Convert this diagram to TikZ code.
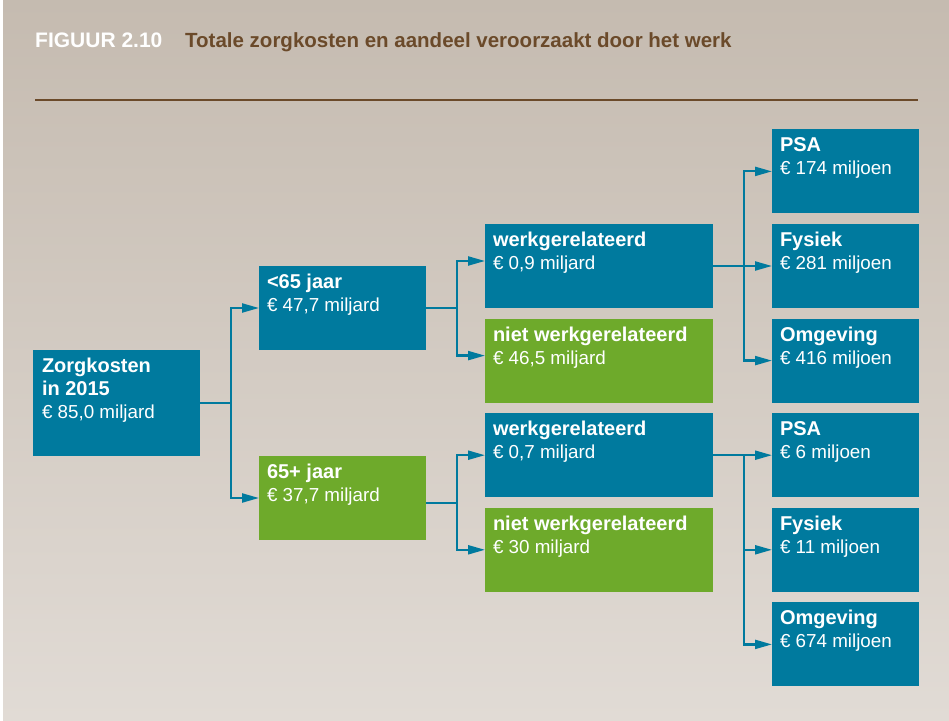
\documentclass[tikz,border=0pt]{standalone}
\usepackage{fontspec}
\setmainfont{Liberation Sans}
\usetikzlibrary{positioning,calc,arrows.meta}

\definecolor{zorgblauw}{RGB}{0,122,158}
\definecolor{zorggroen}{RGB}{110,170,43}
\definecolor{titelbruin}{RGB}{107,74,42}
\definecolor{achtergrond-boven}{RGB}{197,187,176}
\definecolor{achtergrond-onder}{RGB}{225,219,213}

\newcommand{\kop}[1]{{\bfseries\fontsize{20}{23}\selectfont #1}}

\tikzset{
  blok/.style={minimum height=84pt, inner sep=0pt, outer sep=0pt},
  blauw/.style={blok, fill=zorgblauw},
  groen/.style={blok, fill=zorggroen},
  tekst/.style={text=white, align=left, inner sep=0pt, outer sep=0pt, font=\fontsize{18.8}{23}\selectfont},
  lijn/.style={draw=zorgblauw, line width=2.2pt},
  pijl/.style={lijn, -{Triangle[length=17pt 0 0, width=9pt 0 0]}},
}

\begin{document}
\begin{tikzpicture}
        \useasboundingbox (0,0) rectangle (949pt,720pt);
        \fill[white] (0,0) rectangle (949pt,720pt);
        \shade[top color=achtergrond-boven, bottom color=achtergrond-onder] (3pt,0) rectangle (949pt,720pt);

        % titel
        \node[anchor=base west, inner sep=0pt, text=white, font=\bfseries\fontsize{21}{24}\selectfont] (figuur) at (35pt,672pt) {FIGUUR 2.10};
        \node[anchor=base west, inner sep=0pt, text=titelbruin, font=\bfseries\fontsize{20.5}{24}\selectfont] (titel) at (185pt,672pt) {Totale zorgkosten en aandeel veroorzaakt door het werk};
        \draw[titelbruin, line width=1.3pt] (35pt,620pt) -- (918pt,620pt);

        % kolom 1 en 2
        \node[blauw, minimum width=167pt, minimum height=106pt, anchor=north west] (zorg) at (33pt,370pt) {};
        \node[blauw, minimum width=167pt, above right=0pt and 59pt of zorg] (jong) {};
        \node[groen, minimum width=167pt, below right=0pt and 59pt of zorg] (oud) {};

        % kolom 3
        \node[blauw, minimum width=228pt, right=59pt of jong.north east] (werk-jong) {};
        \node[groen, minimum width=228pt, below=10.6pt of werk-jong] (niet-jong) {};
        \node[blauw, minimum width=228pt, below=10.6pt of niet-jong] (werk-oud) {};
        \node[groen, minimum width=228pt, below=10.6pt of werk-oud] (niet-oud) {};

        % kolom 4
        \node[blauw, minimum width=147pt, right=59pt of werk-jong] (fysiek-jong) {};
        \node[blauw, minimum width=147pt, above=10.6pt of fysiek-jong] (psa-jong) {};
        \node[blauw, minimum width=147pt, below=10.6pt of fysiek-jong] (omgeving-jong) {};
        \node[blauw, minimum width=147pt, right=59pt of werk-oud] (psa-oud) {};
        \node[blauw, minimum width=147pt, below=10.6pt of psa-oud] (fysiek-oud) {};
        \node[blauw, minimum width=147pt, below=10.6pt of fysiek-oud] (omgeving-oud) {};

        % teksten
        \node[tekst, below right=8pt and 9pt of zorg.north west] (zorg-t) {\kop{Zorgkosten}\\\kop{in 2015}\\€ 85,0 miljard};
        \node[tekst, below right=8pt and 8pt of jong.north west] (jong-t) {\kop{<65 jaar}\\€ 47,7 miljard};
        \node[tekst, below right=8pt and 8pt of oud.north west] (oud-t) {\kop{65+ jaar}\\€ 37,7 miljard};
        \node[tekst, below right=8pt and 8pt of werk-jong.north west] (werk-jong-t) {\kop{werkgerelateerd}\\€ 0,9 miljard};
        \node[tekst, below right=8pt and 8pt of niet-jong.north west] (niet-jong-t) {\kop{niet werkgerelateerd}\\€ 46,5 miljard};
        \node[tekst, below right=8pt and 8pt of werk-oud.north west] (werk-oud-t) {\kop{werkgerelateerd}\\€ 0,7 miljard};
        \node[tekst, below right=8pt and 8pt of niet-oud.north west] (niet-oud-t) {\kop{niet werkgerelateerd}\\€ 30 miljard};
        \node[tekst, below right=8pt and 8pt of psa-jong.north west] (psa-jong-t) {\kop{PSA}\\€ 174 miljoen};
        \node[tekst, below right=8pt and 8pt of fysiek-jong.north west] (fysiek-jong-t) {\kop{Fysiek}\\€ 281 miljoen};
        \node[tekst, below right=8pt and 8pt of omgeving-jong.north west] (omgeving-jong-t) {\kop{Omgeving}\\€ 416 miljoen};
        \node[tekst, below right=8pt and 8pt of psa-oud.north west] (psa-oud-t) {\kop{PSA}\\€ 6 miljoen};
        \node[tekst, below right=8pt and 8pt of fysiek-oud.north west] (fysiek-oud-t) {\kop{Fysiek}\\€ 11 miljoen};
        \node[tekst, below right=8pt and 8pt of omgeving-oud.north west] (omgeving-oud-t) {\kop{Omgeving}\\€ 674 miljoen};

        % verbindingen
        \coordinate[right=31pt of zorg.east] (splits-zorg);
        \draw[lijn] (zorg.east) -- (splits-zorg);
        \draw[pijl] (splits-zorg) |- (jong.west);
        \draw[pijl] (splits-zorg) |- (oud.west);

        \coordinate[right=31pt of jong.east] (splits-jong);
        \draw[lijn] (jong.east) -- (splits-jong);
        \draw[pijl] (splits-jong) |- ([yshift=5pt]werk-jong.west);
        \draw[pijl] (splits-jong) |- ([yshift=5pt]niet-jong.west);

        \coordinate (oud-uit) at ([yshift=-5pt]oud.east);
        \coordinate[right=31pt of oud-uit] (splits-oud);
        \draw[lijn] (oud-uit) -- (splits-oud);
        \draw[pijl] (splits-oud) |- (werk-oud.west);
        \draw[pijl] (splits-oud) |- (niet-oud.west);

        \coordinate[right=31pt of werk-jong.east] (splits-werk-jong);
        \draw[lijn] (werk-jong.east) -- (splits-werk-jong);
        \draw[pijl] (splits-werk-jong) |- (psa-jong.west);
        \draw[pijl] (splits-werk-jong) |- (fysiek-jong.west);
        \draw[pijl] (splits-werk-jong) |- (omgeving-jong.west);

        \coordinate[right=31pt of werk-oud.east] (splits-werk-oud);
        \draw[lijn] (werk-oud.east) -- (splits-werk-oud);
        \draw[pijl] (splits-werk-oud) |- (psa-oud.west);
        \draw[pijl] (splits-werk-oud) |- (fysiek-oud.west);
        \draw[pijl] (splits-werk-oud) |- (omgeving-oud.west);
\end{tikzpicture}
\end{document}
